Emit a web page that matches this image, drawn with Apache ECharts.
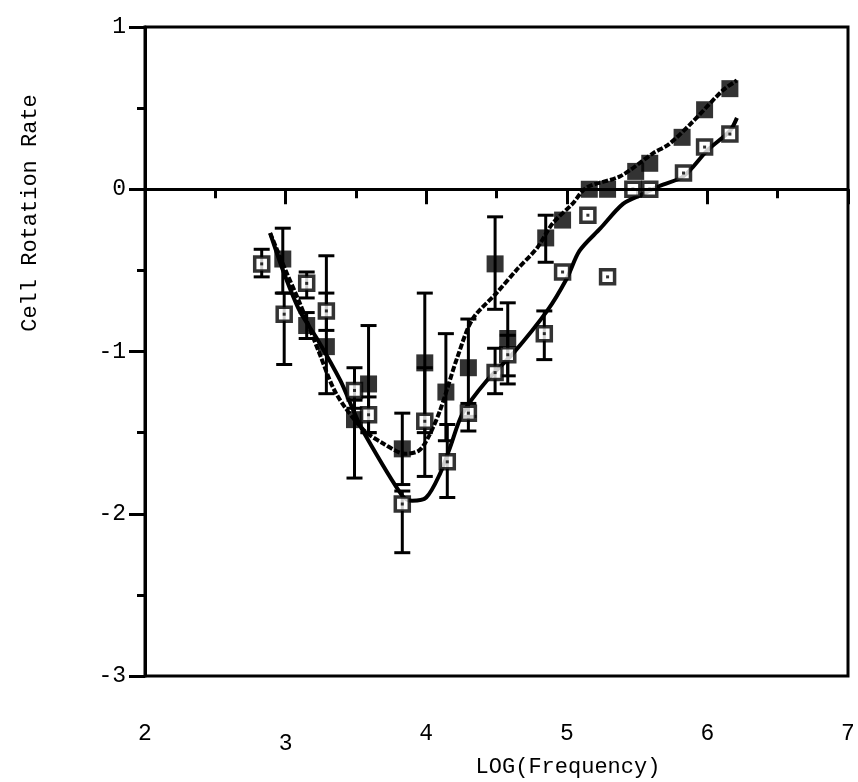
<!DOCTYPE html>
<html>
<head>
<meta charset="utf-8">
<script src="https://cdn.jsdelivr.net/npm/echarts@6/dist/echarts.min.js"></script>
<style>
  html, body { margin: 0; padding: 0; background: #fff; }
  #chart { width: 858px; height: 782px; }
</style>
</head>
<body>
<div id="chart"></div>
<script>
// filled squares (dashed fit)
const filledX = [2.98, 3.15, 3.29, 3.49, 3.59, 3.83, 3.99, 4.14, 4.30, 4.49, 4.58, 4.85, 4.97, 5.16, 5.29, 5.49, 5.59, 5.82, 5.98, 6.16]
const filledY = [-0.43, -0.84, -0.97, -1.42, -1.20, -1.60, -1.07, -1.25, -1.10, -0.46, -0.92, -0.30, -0.19, 0.0, 0.0, 0.11, 0.16, 0.32, 0.49, 0.62]
const filledLo = [-0.64, -0.92, -1.26, -1.78, -1.50, -1.82, -1.50, -1.55, -1.40, -0.74, -1.15, -0.45, null, null, null, null, null, null, null, null]
const filledHi = [-0.24, -0.76, -0.41, -1.30, -0.84, -1.38, -0.64, -0.89, -0.80, -0.17, -0.70, -0.16, null, null, null, null, null, null, null, null]

// open squares (solid fit)
const openX = [2.83, 2.99, 3.15, 3.29, 3.49, 3.59, 3.83, 3.99, 4.15, 4.30, 4.49, 4.58, 4.84, 4.97, 5.15, 5.29, 5.47, 5.59, 5.83, 5.98, 6.16]
const openY = [-0.46, -0.77, -0.58, -0.75, -1.24, -1.39, -1.94, -1.43, -1.68, -1.38, -1.13, -1.02, -0.89, -0.51, -0.16, -0.54, 0.0, 0.0, 0.10, 0.26, 0.34]
const openLo = [-0.54, -1.08, -0.67, -0.87, -1.35, -1.50, -2.24, -1.77, -1.90, -1.49, -1.26, -1.20, -1.05, null, null, null, null, null, null, null, null]
const openHi = [-0.37, -0.64, -0.51, -0.64, -1.10, -1.28, -1.86, -1.10, -1.45, -1.32, -0.98, -0.90, -0.75, null, null, null, null, null, null, null, null]

// fitted curves
const solidFitX = [2.89, 2.99, 3.10, 3.23, 3.39, 3.48, 3.55, 3.83, 3.90, 4.00, 4.10, 4.17, 4.26, 4.43, 4.62, 4.86, 5.00, 5.09, 5.24, 5.40, 5.54, 5.66, 5.83, 6.00, 6.16, 6.21]
const solidFitY = [-0.27, -0.52, -0.75, -0.93, -1.18, -1.36, -1.49, -1.89, -1.92, -1.90, -1.75, -1.59, -1.38, -1.18, -1.01, -0.75, -0.55, -0.38, -0.24, -0.09, -0.03, 0.02, 0.08, 0.24, 0.36, 0.44]
const dashedFitX = [2.89, 3.00, 3.10, 3.24, 3.36, 3.55, 3.70, 3.85, 3.95, 4.02, 4.10, 4.22, 4.33, 4.50, 4.64, 4.79, 4.90, 5.04, 5.14, 5.38, 5.61, 5.73, 5.90, 6.11, 6.21]
const dashedFitY = [-0.27, -0.50, -0.70, -1.01, -1.26, -1.48, -1.57, -1.63, -1.61, -1.52, -1.36, -1.04, -0.80, -0.64, -0.50, -0.36, -0.21, -0.09, 0.01, 0.08, 0.22, 0.28, 0.42, 0.61, 0.67]

const font = '"Liberation Mono", "DejaVu Sans Mono", monospace'

const zip = (xs, ys) => xs.map((x, i) => [x, ys[i]])
const errData = (xs, lo, hi) => xs.map((x, i) => [x, lo[i], hi[i]]).filter((d) => d[1] !== null)

const renderErr = (params, api) => {
  const x = api.value(0)
  const top = api.coord([x, api.value(2)])
  const bot = api.coord([x, api.value(1)])
  const cap = 8
  const style = { stroke: '#000', lineWidth: 3 }
  return {
    type: 'group',
    children: [
      { type: 'line', shape: { x1: top[0], y1: top[1], x2: bot[0], y2: bot[1] }, style },
      { type: 'line', shape: { x1: top[0] - cap, y1: top[1], x2: top[0] + cap, y2: top[1] }, style },
      { type: 'line', shape: { x1: bot[0] - cap, y1: bot[1], x2: bot[0] + cap, y2: bot[1] }, style },
    ],
  }
}

const chart = echarts.init(document.getElementById('chart'))

chart.setOption({
  animation: false,
  backgroundColor: '#fff',
  grid: {
    left: 145,
    right: 10,
    top: 27,
    bottom: 106,
    show: true,
    borderColor: '#000',
    borderWidth: 3,
  },
  xAxis: {
    type: 'value',
    min: 2,
    max: 7,
    interval: 1,
    axisLine: { lineStyle: { color: '#000', width: 3 } },
    axisTick: { length: 15, lineStyle: { color: '#000', width: 3 } },
    minorTick: { show: true, splitNumber: 2, length: 9, lineStyle: { color: '#000', width: 3 } },
    splitLine: { show: false },
    axisLabel: {
      margin: 46,
      color: '#000',
      fontFamily: font,
      fontSize: 23,
      formatter: (v) => (v === 3 ? '{low|3}' : '{n|' + v + '}'),
      rich: {
        n: { fontFamily: font, fontSize: 23, color: '#000' },
        low: { fontFamily: font, fontSize: 23, color: '#000', padding: [10, 0, 0, 0] },
      },
    },
  },
  yAxis: {
    type: 'value',
    min: -3,
    max: 1,
    interval: 1,
    axisLine: { show: true, lineStyle: { color: '#000', width: 3 } },
    axisTick: { show: true, length: 16, lineStyle: { color: '#000', width: 3 } },
    minorTick: { show: true, splitNumber: 2, length: 8, lineStyle: { color: '#000', width: 3 } },
    splitLine: { show: false },
    axisLabel: {
      margin: 19,
      color: '#000',
      fontFamily: font,
      fontSize: 23,
    },
  },
  graphic: [
    {
      type: 'text',
      x: 30,
      y: 213,
      rotation: Math.PI / 2,
      style: {
        text: 'Cell Rotation Rate',
        fontFamily: font,
        fontSize: 22,
        fill: '#000',
        align: 'center',
        verticalAlign: 'middle',
      },
    },
    {
      type: 'text',
      x: 568,
      y: 767,
      style: {
        text: 'LOG(Frequency)',
        fontFamily: font,
        fontSize: 22,
        fill: '#000',
        align: 'center',
        verticalAlign: 'middle',
      },
    },
  ],
  series: [
    {
      type: 'custom',
      name: 'filledErr',
      renderItem: renderErr,
      data: errData(filledX, filledLo, filledHi),
      z: 2,
    },
    {
      type: 'custom',
      name: 'openErr',
      renderItem: renderErr,
      data: errData(openX, openLo, openHi),
      z: 2,
    },
    {
      type: 'line',
      name: 'dashedFit',
      data: zip(dashedFitX, dashedFitY),
      symbol: 'none',
      smooth: 0.3,
      lineStyle: { color: '#000', width: 4, type: [6, 2] },
      z: 3,
      markLine: {
        silent: true,
        symbol: 'none',
        label: { show: false },
        lineStyle: { color: '#000', width: 3, type: 'solid' },
        data: [{ yAxis: 0 }],
      },
    },
    {
      type: 'line',
      name: 'solidFit',
      data: zip(solidFitX, solidFitY),
      symbol: 'none',
      smooth: 0.3,
      lineStyle: { color: '#000', width: 4 },
      z: 3,
    },
    {
      type: 'scatter',
      name: 'filled',
      data: zip(filledX, filledY),
      symbol: 'rect',
      symbolSize: 17,
      itemStyle: { color: '#000' },
      z: 4,
    },
    {
      type: 'scatter',
      name: 'open',
      data: zip(openX, openY),
      symbol: 'rect',
      symbolSize: 14,
      itemStyle: { color: '#fff', borderColor: '#000', borderWidth: 3.5 },
      z: 4,
    },
    {
      type: 'scatter',
      name: 'openDot',
      data: zip(openX, openY),
      symbol: 'rect',
      symbolSize: 3,
      itemStyle: { color: '#000' },
      z: 5,
    },
  ],
})
</script>
</body>
</html>
